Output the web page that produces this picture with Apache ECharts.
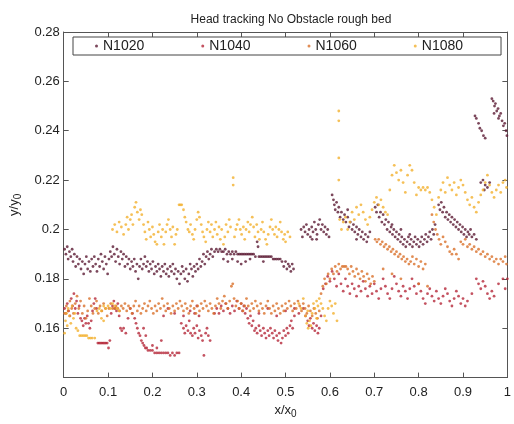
<!doctype html>
<html>
<head>
<meta charset="utf-8">
<title>Head tracking No Obstacle rough bed</title>
<script src="https://cdn.jsdelivr.net/npm/echarts@6/dist/echarts.min.js"></script>
<style>
  html, body { margin: 0; padding: 0; background: #fff; }
  #chart { width: 514px; height: 424px; }
</style>
</head>
<body>
<div id="chart"></div>
<script>
// legend names and colours
var seriesNames = ['N1020', 'N1040', 'N1060', 'N1080'];
var seriesColors = ['#5b1a33', '#b5283a', '#d9702a', '#f2b02e'];
var xTicks = [0, 0.1, 0.2, 0.3, 0.4, 0.5, 0.6, 0.7, 0.8, 0.9, 1];
var yTicks = [0.16, 0.18, 0.2, 0.22, 0.24, 0.26, 0.28];

// points: [x/x0, y/y0]
var n1020 = [
  [0.002,0.192],[0.005,0.19],[0.008,0.193],[0.01,0.188],[0.013,0.191],[0.016,0.189],[0.019,0.192],[0.021,0.187],[0.024,0.19],[0.027,0.185],
  [0.03,0.189],[0.033,0.186],[0.036,0.188],[0.039,0.184],[0.042,0.187],[0.045,0.182],[0.048,0.186],[0.051,0.189],[0.054,0.184],[0.057,0.187],
  [0.06,0.183],[0.063,0.188],[0.066,0.185],[0.069,0.189],[0.072,0.186],[0.075,0.183],[0.078,0.188],[0.081,0.185],[0.084,0.19],[0.087,0.187],
  [0.09,0.184],[0.093,0.189],[0.096,0.186],[0.099,0.182],[0.102,0.188],[0.105,0.191],[0.108,0.189],[0.111,0.193],[0.114,0.19],[0.117,0.187],
  [0.12,0.192],[0.123,0.189],[0.126,0.186],[0.129,0.191],[0.132,0.188],[0.135,0.19],[0.138,0.185],[0.141,0.189],[0.144,0.186],[0.147,0.188],
  [0.15,0.184],[0.153,0.187],[0.156,0.185],[0.159,0.188],[0.162,0.183],[0.165,0.186],[0.168,0.18],[0.171,0.185],[0.174,0.188],[0.177,0.184],
  [0.18,0.186],[0.183,0.189],[0.186,0.185],[0.189,0.187],[0.192,0.183],[0.195,0.186],[0.198,0.184],[0.201,0.187],[0.204,0.182],[0.207,0.185],
  [0.21,0.183],[0.213,0.186],[0.216,0.184],[0.219,0.181],[0.222,0.185],[0.225,0.183],[0.228,0.186],[0.231,0.182],[0.234,0.184],[0.237,0.181],
  [0.24,0.185],[0.243,0.183],[0.246,0.186],[0.249,0.182],[0.252,0.184],[0.255,0.18],[0.258,0.183],[0.261,0.178],[0.264,0.182],[0.267,0.185],
  [0.27,0.183],[0.273,0.18],[0.276,0.184],[0.279,0.179],[0.282,0.182],[0.285,0.186],[0.288,0.184],[0.291,0.181],[0.294,0.185],[0.297,0.183],
  [0.3,0.186],[0.303,0.184],[0.306,0.188],[0.309,0.185],[0.312,0.187],[0.315,0.19],[0.318,0.186],[0.321,0.189],[0.324,0.191],[0.327,0.188],
  [0.33,0.19],[0.333,0.192],[0.336,0.189],[0.34,0.191],[0.344,0.192],[0.348,0.191],[0.352,0.192],[0.356,0.191],[0.36,0.191],[0.364,0.192],
  [0.368,0.19],[0.372,0.191],[0.376,0.19],[0.38,0.191],[0.384,0.19],[0.388,0.191],[0.392,0.19],[0.396,0.19],[0.4,0.19],[0.404,0.19],
  [0.408,0.19],[0.412,0.19],[0.416,0.19],[0.42,0.19],[0.424,0.19],[0.428,0.19],[0.432,0.189],[0.436,0.195],[0.438,0.193],[0.44,0.189],
  [0.444,0.189],[0.448,0.189],[0.452,0.189],[0.456,0.189],[0.46,0.189],[0.464,0.189],[0.468,0.189],[0.472,0.188],[0.476,0.188],[0.48,0.188],
  [0.484,0.188],[0.488,0.188],[0.492,0.187],[0.496,0.185],[0.5,0.187],[0.503,0.184],[0.506,0.186],[0.509,0.185],[0.512,0.183],[0.515,0.186],
  [0.518,0.184],[0.392,0.187],[0.4,0.186],[0.41,0.187],[0.42,0.188],[0.45,0.187],[0.36,0.188],[0.37,0.187],[0.38,0.188],
  [0.535,0.2],[0.538,0.197],[0.541,0.201],[0.544,0.199],[0.547,0.202],[0.55,0.198],[0.553,0.2],[0.556,0.197],[0.559,0.201],[0.562,0.199],
  [0.565,0.203],[0.568,0.2],[0.571,0.198],[0.574,0.202],[0.577,0.204],[0.58,0.2],[0.583,0.202],[0.586,0.199],[0.589,0.201],[0.592,0.198],
  [0.595,0.2],[0.598,0.197],[0.56,0.196],[0.57,0.196],
  [0.605,0.214],[0.608,0.212],[0.61,0.21],[0.612,0.208],[0.615,0.211],[0.618,0.207],[0.62,0.209],[0.623,0.205],[0.626,0.207],[0.63,0.204],
  [0.633,0.206],[0.636,0.203],[0.64,0.205],[0.643,0.201],[0.646,0.203],[0.65,0.2],[0.653,0.202],[0.656,0.199],[0.66,0.201],[0.663,0.198],
  [0.666,0.2],[0.67,0.197],[0.673,0.199],[0.676,0.196],[0.68,0.198],[0.683,0.195],[0.686,0.197],[0.69,0.199],[0.64,0.208],[0.66,0.196],
  [0.702,0.209],[0.705,0.207],[0.708,0.21],[0.711,0.205],[0.714,0.207],[0.717,0.203],[0.72,0.206],[0.723,0.202],[0.726,0.204],[0.729,0.2],
  [0.732,0.203],[0.735,0.199],[0.738,0.201],[0.741,0.198],[0.744,0.2],[0.747,0.197],[0.75,0.199],[0.753,0.196],[0.756,0.198],[0.759,0.195],
  [0.762,0.197],[0.765,0.194],[0.768,0.196],[0.771,0.193],[0.774,0.195],[0.777,0.197],[0.78,0.194],[0.783,0.196],[0.786,0.193],[0.789,0.195],
  [0.792,0.197],[0.795,0.194],[0.798,0.196],[0.801,0.193],[0.804,0.195],[0.807,0.197],[0.81,0.194],[0.813,0.196],[0.816,0.198],[0.819,0.195],
  [0.822,0.197],[0.825,0.199],[0.828,0.196],[0.831,0.2],[0.834,0.198],[0.837,0.202],[0.74,0.202],[0.76,0.2],[0.78,0.198],
  [0.845,0.21],[0.848,0.208],[0.851,0.211],[0.854,0.207],[0.857,0.209],[0.86,0.205],[0.863,0.207],[0.866,0.204],[0.869,0.206],[0.872,0.203],
  [0.875,0.205],[0.878,0.202],[0.881,0.204],[0.884,0.201],[0.887,0.203],[0.89,0.2],[0.893,0.202],[0.896,0.199],[0.899,0.201],[0.902,0.198],
  [0.905,0.2],[0.908,0.197],[0.911,0.199],[0.914,0.198],[0.917,0.2],[0.92,0.197],[0.925,0.198],[0.93,0.196],
  [0.94,0.219],[0.945,0.22],[0.95,0.218],[0.955,0.217],[0.96,0.219],[0.948,0.216],
  [0.927,0.246],[0.93,0.245],[0.935,0.243],[0.938,0.241],[0.942,0.24],[0.946,0.238],[0.95,0.237],[0.965,0.253],[0.968,0.252],[0.971,0.25],
  [0.973,0.251],[0.976,0.248],[0.979,0.249],[0.982,0.246],[0.985,0.247],[0.988,0.244],[0.991,0.242],[0.994,0.243],[0.997,0.24],[0.999,0.238],
  [0.97,0.247],[0.98,0.245]
];

var n1040 = [
  [0.002,0.168],[0.005,0.166],[0.008,0.17],[0.011,0.167],[0.014,0.165],[0.017,0.172],[0.02,0.169],[0.023,0.174],[0.026,0.168],[0.029,0.171],
  [0.032,0.166],[0.035,0.169],[0.038,0.164],[0.041,0.163],[0.044,0.161],[0.047,0.164],[0.05,0.162],[0.053,0.165],[0.056,0.162],[0.059,0.16],
  [0.062,0.163],[0.065,0.167],[0.068,0.17],[0.071,0.172],[0.074,0.168],[0.077,0.154],[0.08,0.154],[0.083,0.154],[0.086,0.154],[0.089,0.154],
  [0.092,0.154],[0.095,0.154],[0.098,0.154],[0.101,0.152],[0.104,0.155],[0.107,0.166],[0.11,0.169],[0.113,0.171],[0.116,0.168],[0.119,0.167],
  [0.122,0.17],[0.125,0.165],[0.128,0.16],[0.131,0.159],[0.135,0.16],[0.14,0.158],[0.145,0.164],[0.15,0.168],[0.155,0.166],[0.16,0.164],
  [0.163,0.162],[0.166,0.16],[0.169,0.158],[0.172,0.157],[0.175,0.155],[0.178,0.154],[0.181,0.153],[0.184,0.152],[0.187,0.152],[0.19,0.151],
  [0.195,0.151],[0.2,0.151],[0.205,0.15],[0.21,0.15],[0.215,0.15],[0.22,0.15],[0.225,0.15],[0.23,0.15],[0.235,0.15],[0.24,0.149],
  [0.245,0.15],[0.25,0.149],[0.255,0.15],[0.2,0.153],[0.21,0.152],[0.22,0.155],[0.185,0.157],[0.18,0.16],[0.26,0.15],[0.265,0.162],
  [0.27,0.16],[0.273,0.158],[0.276,0.161],[0.28,0.159],[0.283,0.163],[0.286,0.158],[0.29,0.157],[0.293,0.16],[0.296,0.158],[0.3,0.161],
  [0.303,0.156],[0.306,0.159],[0.31,0.157],[0.313,0.155],[0.316,0.149],[0.32,0.158],[0.323,0.16],[0.326,0.157],[0.33,0.155],[0.305,0.165],
  [0.295,0.166],[0.3,0.169],[0.285,0.167],[0.27,0.165],[0.25,0.166],[0.235,0.168],[0.225,0.165],[0.34,0.166],[0.345,0.168],[0.35,0.166],
  [0.355,0.169],[0.36,0.167],[0.365,0.17],[0.37,0.168],[0.375,0.166],[0.38,0.169],[0.385,0.167],[0.39,0.171],[0.395,0.168],[0.4,0.17],
  [0.403,0.167],[0.406,0.169],[0.409,0.166],[0.412,0.168],[0.415,0.164],[0.418,0.162],[0.421,0.165],[0.424,0.161],[0.427,0.163],[0.43,0.159],
  [0.433,0.16],[0.436,0.158],[0.44,0.161],[0.443,0.159],[0.446,0.157],[0.45,0.16],[0.453,0.158],[0.456,0.156],[0.46,0.159],[0.463,0.157],
  [0.466,0.16],[0.47,0.158],[0.473,0.156],[0.476,0.159],[0.48,0.157],[0.483,0.155],[0.486,0.158],[0.49,0.154],[0.493,0.156],[0.496,0.159],
  [0.5,0.157],[0.503,0.16],[0.506,0.158],[0.51,0.161],[0.513,0.163],[0.516,0.16],[0.52,0.165],[0.44,0.166],[0.46,0.168],[0.48,0.165],
  [0.5,0.167],[0.52,0.168],[0.53,0.166],[0.54,0.168],[0.545,0.165],[0.55,0.163],[0.553,0.161],[0.556,0.164],[0.56,0.16],[0.563,0.162],
  [0.566,0.159],[0.57,0.161],[0.573,0.158],[0.576,0.16],[0.58,0.165],[0.585,0.176],[0.59,0.178],[0.595,0.181],[0.6,0.179],[0.605,0.183],
  [0.61,0.18],[0.615,0.177],[0.62,0.182],[0.625,0.178],[0.63,0.175],[0.635,0.18],[0.64,0.177],[0.645,0.174],[0.65,0.178],[0.655,0.176],
  [0.66,0.173],[0.665,0.177],[0.67,0.175],[0.675,0.179],[0.68,0.176],[0.685,0.173],[0.69,0.177],[0.695,0.174],[0.7,0.178],[0.705,0.175],
  [0.71,0.172],[0.715,0.176],[0.72,0.18],[0.725,0.177],[0.73,0.174],[0.735,0.172],[0.74,0.176],[0.745,0.181],[0.75,0.178],[0.755,0.175],
  [0.76,0.173],[0.765,0.177],[0.77,0.175],[0.775,0.172],[0.78,0.176],[0.785,0.18],[0.79,0.177],[0.795,0.174],[0.8,0.178],[0.805,0.175],
  [0.81,0.172],[0.815,0.17],[0.82,0.174],[0.825,0.176],[0.83,0.173],[0.835,0.171],[0.84,0.175],[0.845,0.172],[0.85,0.17],[0.855,0.173],
  [0.86,0.176],[0.865,0.174],[0.87,0.171],[0.875,0.169],[0.88,0.172],[0.885,0.175],[0.89,0.173],[0.895,0.17],[0.9,0.172],[0.905,0.169],
  [0.91,0.171],[0.92,0.174],[0.93,0.18],[0.935,0.178],[0.94,0.176],[0.945,0.179],[0.95,0.177],[0.955,0.174],[0.96,0.172],[0.965,0.175],
  [0.97,0.173],[0.98,0.178],[0.99,0.18],[0.995,0.176],[1.0,0.18]
];

var n1060 = [
  [0.002,0.166],[0.006,0.169],[0.01,0.167],[0.014,0.171],[0.018,0.168],[0.022,0.166],[0.026,0.17],[0.03,0.173],[0.034,0.168],[0.038,0.171],
  [0.042,0.166],[0.046,0.169],[0.05,0.164],[0.054,0.167],[0.058,0.172],[0.062,0.169],[0.066,0.166],[0.07,0.168],[0.074,0.171],[0.078,0.166],
  [0.082,0.169],[0.086,0.167],[0.09,0.17],[0.094,0.168],[0.098,0.165],[0.102,0.168],[0.106,0.17],[0.11,0.168],[0.114,0.168],[0.118,0.169],
  [0.122,0.168],[0.126,0.167],[0.13,0.169],[0.134,0.168],[0.138,0.17],[0.142,0.167],[0.146,0.169],[0.15,0.168],[0.154,0.166],[0.158,0.169],
  [0.162,0.171],[0.166,0.167],[0.17,0.169],[0.174,0.166],[0.178,0.168],[0.182,0.17],[0.186,0.167],[0.19,0.169],[0.194,0.171],[0.198,0.168],
  [0.202,0.166],[0.206,0.169],[0.21,0.167],[0.214,0.17],[0.218,0.168],[0.222,0.172],[0.226,0.169],[0.23,0.167],[0.234,0.17],[0.238,0.168],
  [0.242,0.166],[0.246,0.169],[0.25,0.167],[0.254,0.17],[0.258,0.168],[0.262,0.171],[0.266,0.169],[0.27,0.167],[0.274,0.17],[0.278,0.168],
  [0.282,0.166],[0.286,0.169],[0.29,0.171],[0.294,0.168],[0.298,0.166],[0.302,0.169],[0.306,0.167],[0.31,0.17],[0.314,0.168],[0.318,0.171],
  [0.322,0.169],[0.326,0.167],[0.33,0.17],[0.334,0.168],[0.338,0.166],[0.342,0.169],[0.346,0.172],[0.35,0.17],[0.354,0.168],[0.358,0.171],
  [0.362,0.173],[0.366,0.17],[0.37,0.168],[0.374,0.171],[0.378,0.177],[0.381,0.178],[0.384,0.172],[0.388,0.169],[0.392,0.171],[0.396,0.168],
  [0.4,0.17],[0.404,0.167],[0.408,0.169],[0.412,0.172],[0.416,0.169],[0.42,0.167],[0.424,0.17],[0.428,0.168],[0.432,0.171],[0.436,0.169],
  [0.44,0.167],[0.444,0.17],[0.448,0.168],[0.452,0.166],[0.456,0.169],[0.46,0.171],[0.464,0.168],[0.468,0.166],[0.472,0.169],[0.476,0.167],
  [0.48,0.17],[0.484,0.168],[0.488,0.166],[0.492,0.169],[0.496,0.167],[0.5,0.17],[0.504,0.168],[0.508,0.171],[0.512,0.169],[0.516,0.167],
  [0.52,0.17],[0.524,0.168],[0.528,0.171],[0.532,0.169],[0.536,0.167],[0.54,0.17],[0.544,0.168],[0.548,0.166],[0.552,0.169],[0.556,0.167],
  [0.56,0.165],[0.564,0.168],[0.568,0.166],[0.572,0.164],[0.576,0.167],[0.58,0.174],[0.584,0.177],[0.588,0.18],[0.592,0.178],[0.596,0.182],
  [0.6,0.18],[0.604,0.184],
  [0.608,0.182],[0.612,0.185],[0.616,0.183],[0.62,0.186],[0.624,0.184],[0.628,0.185],[0.632,0.185],[0.636,0.185],[0.64,0.184],[0.644,0.182],
  [0.648,0.185],[0.652,0.183],[0.656,0.181],[0.66,0.184],[0.664,0.182],[0.668,0.18],[0.672,0.183],[0.676,0.181],[0.68,0.179],[0.684,0.182],
  [0.688,0.18],[0.692,0.178],[0.696,0.181],[0.7,0.179],[0.72,0.184],[0.74,0.182],[0.76,0.18],[0.8,0.178],[0.82,0.177],
  [0.702,0.196],[0.706,0.195],[0.71,0.196],[0.714,0.194],[0.718,0.195],[0.722,0.193],[0.726,0.194],[0.73,0.192],[0.734,0.193],[0.738,0.191],
  [0.742,0.192],[0.746,0.19],[0.75,0.191],[0.754,0.189],[0.758,0.19],[0.762,0.188],[0.766,0.189],[0.77,0.187],[0.774,0.188],[0.778,0.186],
  [0.782,0.187],[0.786,0.189],[0.79,0.186],[0.795,0.188],[0.8,0.185],[0.805,0.187],[0.81,0.184],[0.815,0.186],
  [0.83,0.206],[0.834,0.203],[0.838,0.2],[0.842,0.198],[0.846,0.196],[0.85,0.194],[0.855,0.197],[0.86,0.195],[0.865,0.193],[0.87,0.191],
  [0.875,0.19],[0.88,0.192],[0.885,0.19],[0.89,0.188],[0.895,0.195],[0.9,0.194],[0.905,0.196],[0.91,0.193],[0.915,0.194],[0.92,0.192],
  [0.925,0.193],[0.93,0.191],[0.935,0.192],[0.94,0.19],[0.945,0.191],[0.95,0.189],[0.955,0.19],[0.96,0.188],[0.965,0.189],[0.97,0.187],
  [0.975,0.188],[0.98,0.186],[0.985,0.188],[0.99,0.187],[0.995,0.189],[0.998,0.186]
];

var n1080 = [
  [0.002,0.158],[0.004,0.163],[0.006,0.166],[0.008,0.161],[0.01,0.168],[0.013,0.165],[0.016,0.162],[0.019,0.169],[0.022,0.164],[0.025,0.166],
  [0.028,0.16],[0.032,0.159],[0.036,0.157],[0.04,0.157],[0.044,0.157],[0.048,0.157],[0.052,0.157],[0.056,0.156],[0.06,0.156],[0.064,0.156],
  [0.07,0.156],[0.075,0.167],[0.08,0.168],[0.085,0.167],[0.09,0.169],[0.095,0.168],[0.1,0.169],[0.105,0.168],[0.11,0.17],[0.115,0.169],
  [0.12,0.168],[0.125,0.167],[0.085,0.164],[0.09,0.163],
  [0.11,0.2],[0.115,0.202],[0.12,0.199],[0.125,0.203],[0.13,0.201],[0.135,0.198],[0.14,0.202],[0.143,0.205],[0.146,0.2],[0.15,0.204],
  [0.153,0.206],[0.156,0.202],[0.16,0.209],[0.163,0.211],[0.166,0.207],[0.17,0.204],[0.173,0.208],[0.176,0.206],[0.18,0.202],[0.183,0.199],
  [0.186,0.196],[0.19,0.203],[0.193,0.2],[0.196,0.197],[0.2,0.201],[0.203,0.198],[0.206,0.195],[0.21,0.194],[0.213,0.199],[0.216,0.202],
  [0.22,0.197],[0.223,0.2],[0.226,0.194],[0.23,0.199],[0.233,0.202],[0.236,0.204],[0.24,0.2],[0.243,0.197],[0.246,0.201],[0.25,0.194],
  [0.253,0.198],[0.256,0.2],[0.26,0.21],[0.263,0.21],[0.266,0.21],[0.27,0.208],[0.273,0.205],[0.276,0.203],[0.28,0.2],[0.283,0.199],
  [0.286,0.202],[0.29,0.198],[0.293,0.196],[0.296,0.2],[0.3,0.204],[0.303,0.207],[0.306,0.205],[0.31,0.202],[0.313,0.199],[0.316,0.197],
  [0.32,0.195],[0.323,0.2],[0.326,0.203],[0.33,0.199],[0.333,0.202],[0.336,0.197],[0.34,0.2],[0.343,0.203],[0.346,0.198],[0.35,0.201],
  [0.353,0.196],[0.356,0.2],[0.36,0.194],[0.363,0.197],[0.366,0.202],[0.37,0.199],[0.373,0.204],[0.376,0.201],[0.382,0.221],[0.382,0.218],
  [0.385,0.197],[0.388,0.2],[0.391,0.202],[0.395,0.204],[0.398,0.2],[0.401,0.198],[0.405,0.201],[0.408,0.196],[0.411,0.2],[0.415,0.203],
  [0.418,0.199],[0.421,0.202],[0.425,0.205],[0.428,0.201],[0.431,0.197],[0.435,0.202],[0.438,0.199],[0.441,0.196],[0.445,0.2],[0.448,0.203],
  [0.451,0.199],[0.455,0.196],[0.458,0.194],[0.461,0.198],[0.465,0.201],[0.468,0.204],[0.471,0.2],[0.475,0.198],[0.478,0.201],[0.481,0.197],
  [0.485,0.2],[0.488,0.203],[0.491,0.199],[0.495,0.196],[0.498,0.198],[0.5,0.195],[0.505,0.199],[0.51,0.197],
  [0.53,0.17],[0.535,0.168],[0.54,0.172],[0.545,0.165],[0.548,0.162],[0.551,0.16],[0.554,0.163],[0.557,0.161],[0.56,0.166],[0.563,0.17],
  [0.566,0.168],[0.57,0.171],[0.573,0.169],[0.576,0.172],[0.58,0.17],[0.584,0.168],[0.588,0.165],[0.592,0.163],[0.596,0.168],[0.6,0.171],
  [0.604,0.169],[0.608,0.166],[0.612,0.17],[0.616,0.163],[0.55,0.167],[0.57,0.164],
  [0.62,0.248],[0.62,0.244],[0.62,0.229],[0.62,0.22],[0.622,0.204],[0.626,0.2],[0.63,0.203],
  [0.635,0.205],[0.64,0.2],[0.645,0.203],[0.65,0.207],[0.655,0.204],[0.66,0.209],[0.665,0.206],[0.67,0.21],[0.675,0.207],[0.68,0.204],
  [0.685,0.202],[0.69,0.205],[0.695,0.208],[0.7,0.211],[0.705,0.213],[0.71,0.21],[0.715,0.212],[0.72,0.209],[0.725,0.207],[0.73,0.206],
  [0.735,0.216],[0.74,0.222],[0.745,0.226],[0.75,0.223],[0.755,0.22],[0.76,0.224],[0.765,0.219],[0.77,0.215],[0.775,0.222],[0.78,0.226],
  [0.785,0.224],[0.79,0.219],[0.795,0.214],[0.8,0.217],[0.805,0.216],[0.81,0.217],[0.815,0.216],[0.82,0.217],[0.825,0.215],[0.83,0.212],
  [0.835,0.209],[0.84,0.206],[0.845,0.213],[0.85,0.216],[0.855,0.219],[0.86,0.215],[0.865,0.221],[0.87,0.218],[0.875,0.216],[0.88,0.219],
  [0.885,0.214],[0.89,0.217],[0.895,0.22],[0.9,0.218],[0.905,0.215],[0.91,0.212],[0.915,0.21],[0.92,0.213],[0.925,0.209],[0.93,0.207],
  [0.935,0.211],[0.94,0.214],[0.945,0.216],[0.95,0.219],[0.955,0.222],[0.96,0.218],[0.965,0.215],[0.97,0.213],[0.975,0.216],[0.98,0.218],
  [0.985,0.215],[0.99,0.219],[0.995,0.22],[0.998,0.217]
];

var seriesData = [n1020, n1040, n1060, n1080];
var font = 'Liberation Sans, Arial, sans-serif';
var axisColor = '#555';

function fmt(v) {
  return String(Math.round(v * 100) / 100);
}

var chart = echarts.init(document.getElementById('chart'), null, { renderer: 'canvas' });

var option = {
  backgroundColor: '#fff',
  animation: false,
  textStyle: { fontFamily: font },
  title: {
    text: 'Head tracking No Obstacle rough bed',
    left: 286,
    top: 9,
    textAlign: 'center',
    textStyle: { fontSize: 12, fontWeight: 'normal', color: '#222', fontFamily: font }
  },
  legend: {
    data: seriesNames,
    left: 73,
    top: 37,
    orient: 'horizontal',
    icon: 'circle',
    itemWidth: 3,
    itemHeight: 3,
    itemGap: 57,
    padding: [2, 38, 2, 22],
    borderColor: '#444',
    borderWidth: 1,
    borderRadius: 0,
    textStyle: { fontSize: 14, color: '#222', fontFamily: font }
  },
  grid: { left: 60, right: 1, top: 32, bottom: 36, containLabel: false },
  xAxis: [{
    type: 'value', min: 0, max: 1, interval: 0.1,
    name: 'x/x{s|0}', nameLocation: 'middle', nameGap: 22,
    nameTextStyle: {
      fontSize: 13, color: '#222', fontFamily: font,
      rich: { s: { fontSize: 10, padding: [8, 0, 0, 0], color: '#222', fontFamily: font } }
    },
    axisLine: { show: true, onZero: false, lineStyle: { color: axisColor } },
    axisTick: { show: true, inside: true, length: 5, lineStyle: { color: axisColor } },
    axisLabel: { fontSize: 13, color: '#222', margin: 8, formatter: function (v) { return xTicks.indexOf(Math.round(v * 10) / 10) >= 0 ? fmt(v) : ''; } },
    splitLine: { show: false }
  }, {
    type: 'value', min: 0, max: 1, interval: 0.1, position: 'top',
    axisLine: { show: true, onZero: false, lineStyle: { color: axisColor } },
    axisTick: { show: true, inside: true, length: 5, lineStyle: { color: axisColor } },
    axisLabel: { show: false },
    splitLine: { show: false }
  }],
  yAxis: [{
    type: 'value', min: 0.14, max: 0.28, interval: 0.02,
    name: 'y/y{s|0}', nameLocation: 'middle', nameGap: 35, nameRotate: 90,
    nameTextStyle: {
      fontSize: 13, color: '#222', fontFamily: font,
      rich: { s: { fontSize: 10, padding: [8, 0, 0, 0], color: '#222', fontFamily: font } }
    },
    axisLine: { show: true, onZero: false, lineStyle: { color: axisColor } },
    axisTick: { show: true, inside: true, length: 5, lineStyle: { color: axisColor } },
    axisLabel: {
      fontSize: 13, color: '#222', margin: 4,
      formatter: function (v) {
        var r = Math.round(v * 100) / 100;
        return yTicks.indexOf(r) >= 0 ? fmt(r) : '';
      }
    },
    splitLine: { show: false }
  }, {
    type: 'value', min: 0.14, max: 0.28, interval: 0.02, position: 'right',
    axisLine: { show: true, onZero: false, lineStyle: { color: axisColor } },
    axisTick: { show: true, inside: true, length: 5, lineStyle: { color: axisColor } },
    axisLabel: { show: false },
    splitLine: { show: false }
  }],
  series: seriesNames.map(function (name, i) {
    return {
      name: name,
      type: 'scatter',
      xAxisIndex: 0,
      yAxisIndex: 0,
      symbol: 'circle',
      symbolSize: 2.8,
      itemStyle: { color: seriesColors[i] },
      data: seriesData[i]
    };
  })
};

chart.setOption(option);
</script>
</body>
</html>
